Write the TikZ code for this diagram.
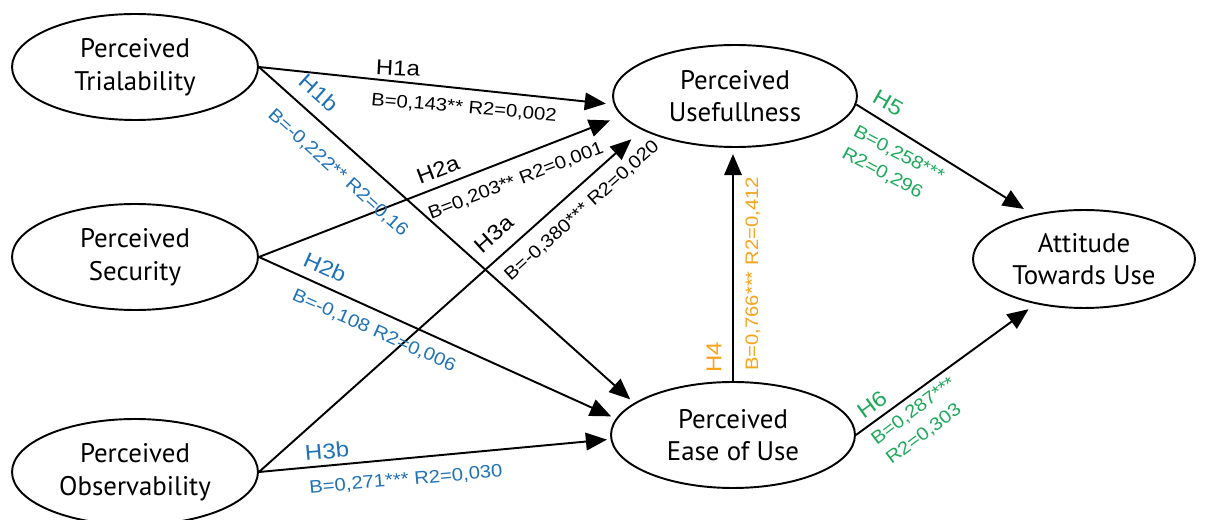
\documentclass[tikz,border=0pt]{standalone}
\usepackage{fontspec}
\setmainfont{Liberation Sans}
\newfontfamily\ellfont{PT Sans}
\newfontfamily\labfont[FakeStretch=1.12]{Liberation Sans}
\usetikzlibrary{shapes.geometric,arrows.meta}
\definecolor{hblue}{RGB}{31,113,184}
\definecolor{hgreen}{RGB}{30,170,90}
\definecolor{horange}{RGB}{247,163,27}
\begin{document}
\begin{tikzpicture}[x=0.02cm,y=-0.02cm,
  construct/.style={ellipse,draw,line width=1.1pt,minimum width=4.92cm,minimum height=2.12cm,
    inner sep=0pt,align=center,font=\ellfont\fontsize{15.3}{18.5}\selectfont},
  hyp/.style={-{Triangle[length=12pt,width=10pt]},line width=1.1pt},
  lab/.style={font=\labfont\fontsize{10.3}{14}\selectfont,inner sep=0pt},
  hlab/.style={font=\labfont\fontsize{12.2}{14}\selectfont,inner sep=0pt}]
\useasboundingbox (0,0) rectangle (1205,520);

\node[construct] (pt) at (135,67) {Perceived\\Trialability};
\node[construct] (ps) at (135,257) {Perceived\\Security};
\node[construct] (po) at (135,472) {Perceived\\Observability};
\node[construct,minimum width=4.88cm,minimum height=2.04cm] (pu) at (735,96) {Perceived\\Usefullness};
\node[construct,minimum width=4.88cm] (pe) at (733,435) {Perceived\\Ease of Use};
\node[construct,minimum width=4.44cm,minimum height=1.96cm] (att) at (1084,259) {Attitude\\Towards Use};

\draw[hyp,shorten >=4.5pt] (pt.east) -- (pu.184);
\draw[hyp,shorten >=3pt] (pt.east) -- (pe.162);
\draw[hyp,shorten >=7pt] (ps.east) -- (pu.190);
\draw[hyp,shorten >=3pt] (ps.east) -- (pe.172);
\draw[hyp,shorten >=8pt] (po.east) -- (pu.200);
\draw[hyp,shorten >=2pt] (po.east) -- (pe.182);
\draw[hyp,shorten >=3.5pt] (pe.north) -- (pe.north |- pu.south);
\draw[hyp,shorten >=6pt] (pu.-4) -- (att.139);
\draw[hyp,shorten >=5pt] (pe.east) -- (att.223);

\node[hlab,rotate=-3] (h1a) at (398,68) {H1a};
\node[lab,rotate=-5] (b1a) at (464,108) {B=0,143** R2=0,002};
\node[hlab,text=hblue,rotate=-42] (h1b) at (319,93) {H1b};
\node[lab,text=hblue,rotate=-42] (b1b) at (338,173) {B=-0,222** R2=0,16};
\node[hlab,rotate=21] (h2a) at (438,170) {H2a};
\node[lab,rotate=21] (b2a) at (516,181) {B=0,203** R2=0,001};
\node[hlab,rotate=42] (h3a) at (494,234) {H3a};
\node[lab,rotate=42] (b3a) at (582,211) {B=-0,380*** R2=0,020};
\node[hlab,text=hblue,rotate=-24] (h2b) at (325,267) {H2b};
\node[lab,text=hblue,rotate=-24] (b2b) at (374,331) {B=-0,108 R2=0,006};
\node[hlab,text=hblue,rotate=5] (h3b) at (327,451) {H3b};
\node[lab,text=hblue,rotate=5] (b3b) at (406,480) {B=0,271*** R2=0,030};
\node[hlab,text=horange,rotate=90] (h4) at (714,357) {H4};
\node[lab,text=horange,rotate=90] (b4) at (753,274) {B=0,766*** R2=0,412};
\node[hlab,text=hgreen,rotate=-30] (h5) at (888,103) {H5};
\node[lab,text=hgreen,rotate=-28,align=left] (b5) at (893,165) {B=0,258***\\R2=0,296};
\node[hlab,text=hgreen,rotate=36] (h6) at (872,405) {H6};
\node[lab,text=hgreen,rotate=37,align=left] (b6) at (921,421) {B=0,287***\\R2=0,303};
\end{tikzpicture}
\end{document}
